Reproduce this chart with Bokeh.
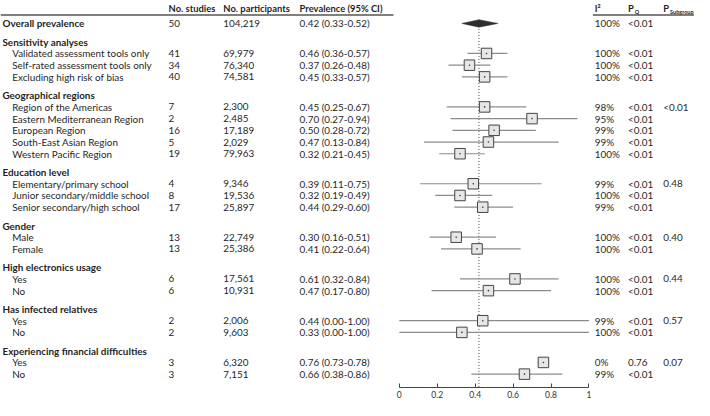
from bokeh.plotting import figure
from bokeh.models import Range1d, FixedTicker
from bokeh.core.properties import value
from bokeh.embed import file_html
from bokeh.resources import INLINE

# ---------------- data ----------------
overall_label = "Overall prevalence"
overall_studies = 50
overall_participants = 104219
overall_prev = 0.42
overall_lo = 0.33
overall_hi = 0.52
overall_i2 = "100%"
overall_pq = "<0.01"

group_names = ["Sensitivity analyses", "Geographical regions", "Education level", "Gender",
               "High electronics usage", "Has infected relatives", "Experiencing financial difficulties"]
group_sizes = [3, 5, 3, 2, 2, 2, 2]
group_p_subgroup = ["", "<0.01", "0.48", "0.40", "0.44", "0.57", "0.07"]

item_labels = ["Validated assessment tools only", "Self-rated assessment tools only", "Excluding high risk of bias",
               "Region of the Americas", "Eastern Mediterranean Region", "European Region",
               "South-East Asian Region", "Western Pacific Region",
               "Elementary/primary school", "Junior secondary/middle school", "Senior secondary/high school",
               "Male", "Female", "Yes", "No", "Yes", "No", "Yes", "No"]
item_studies = [41, 34, 40, 7, 2, 16, 5, 19, 4, 8, 17, 13, 13, 6, 6, 2, 2, 3, 3]
item_participants = [69979, 76340, 74581, 2300, 2485, 17189, 2029, 79963, 9346, 19536, 25897,
                     22749, 25386, 17561, 10931, 2006, 9603, 6320, 7151]
item_prev = [0.46, 0.37, 0.45, 0.45, 0.70, 0.50, 0.47, 0.32, 0.39, 0.32, 0.44,
             0.30, 0.41, 0.61, 0.47, 0.44, 0.33, 0.76, 0.66]
item_lo = [0.36, 0.26, 0.33, 0.25, 0.27, 0.28, 0.13, 0.21, 0.11, 0.19, 0.29,
           0.16, 0.22, 0.32, 0.17, 0.00, 0.00, 0.73, 0.38]
item_hi = [0.57, 0.48, 0.57, 0.67, 0.94, 0.72, 0.84, 0.45, 0.75, 0.49, 0.60,
           0.51, 0.64, 0.84, 0.80, 1.00, 1.00, 0.78, 0.86]
item_i2 = ["100%", "100%", "100%", "98%", "95%", "99%", "99%", "100%", "99%", "100%", "99%",
           "100%", "100%", "100%", "100%", "99%", "100%", "0%", "99%"]
item_pq = ["<0.01"] * 17 + ["0.76", "<0.01"]

col_headers = ["No. studies", "No. participants", "Prevalence (95% CI)"]
x_ticks = [0, 0.2, 0.4, 0.6, 0.8, 1]
x_tick_labels = ["0", "0.2", "0.4", "0.6", "0.8", "1"]

# ---------------- layout ----------------
W, H = 694, 400
REF_W = 710
PX0, PX_UNIT = 408.0, 194.0          # reference px of value 0, px per unit
ROW0, ROW_STEP = 24.0, 12.25         # reference px of first row, px per row
GAP = 19.18 / ROW_STEP               # space before a group header (rows)
AXIS_PX = 405.0


def px_x(px):
    return (px - PX0) / PX_UNIT


def px_y(py):
    return (py - ROW0) / ROW_STEP


FONT = value("Lato")
FS = value("9.9px")
FS_HEAD = value("9.4px")
TXT = "#1f1f1f"

# row positions
overall_y = 0.0
header_ys, item_ys, first_item_ys = [], [], []
cur = 0.0
for gs in group_sizes:
    cur += GAP
    header_ys.append(cur)
    for k in range(gs):
        cur += 1.0
        item_ys.append(cur)
        if k == 0:
            first_item_ys.append(cur)

p = figure(width=W, height=H, output_backend="svg", toolbar_location=None,
           x_range=Range1d(px_x(0), px_x(REF_W)),
           y_range=Range1d(px_y(AXIS_PX), px_y(0)),
           y_axis_location=None, min_border=0, min_border_bottom=0,
           background_fill_color="white", border_fill_color="white")
p.outline_line_color = None
p.xgrid.visible = False
p.ygrid.visible = False

ax = p.xaxis[0]
ax.ticker = FixedTicker(ticks=x_ticks)
ax.major_label_overrides = {t: l for t, l in zip(x_ticks, x_tick_labels)}
ax.bounds = (x_ticks[0], x_ticks[-1])
ax.axis_line_color = "#444444"
ax.major_tick_line_color = "#444444"
ax.major_tick_in = 4
ax.major_tick_out = 0
ax.minor_tick_line_color = None
ax.major_label_standoff = 3
ax.major_label_text_font = "Lato"
ax.major_label_text_font_size = "8.5px"
ax.major_label_text_color = "#333333"


def add_text(x_px, ys, texts, bold=False, size=FS, color=TXT, y_offset=0):
    p.text(x=[px_x(x_px)] * len(ys), y=ys, text=texts, text_font=FONT, text_font_size=size,
           text_font_style="bold" if bold else "normal", text_color=color,
           text_baseline="middle", text_align="left", y_offset=y_offset)


# header
hy = px_y(8.8)
add_text(172, [hy], [col_headers[0]], bold=True, size=FS_HEAD)
add_text(228, [hy], [col_headers[1]], bold=True, size=FS_HEAD)
add_text(306, [hy], [col_headers[2]], bold=True, size=FS_HEAD)
add_text(608, [hy], ["I²"], bold=True, size=FS_HEAD)
add_text(642, [hy], ["P"], bold=True, size=FS_HEAD)
add_text(649, [hy], ["Q"], bold=True, size=value("5.5px"), y_offset=3)
add_text(678, [hy], ["P"], bold=True, size=FS_HEAD)
add_text(685, [hy], ["Subgroup"], bold=True, size=value("5.5px"), y_offset=3)

ly = px_y(15.2)
p.segment(x0=[px_x(0), px_x(606)], y0=[ly, ly], x1=[px_x(402), px_x(REF_W)], y1=[ly, ly],
          line_color="#555555", line_width=1.6)

# left columns
fmt_ci = lambda m, a, b: f"{m:.2f} ({a:.2f}-{b:.2f})"
add_text(2, [overall_y], [overall_label], bold=True)
add_text(172, [overall_y], [str(overall_studies)])
add_text(228, [overall_y], [f"{overall_participants:,}"])
add_text(306, [overall_y], [fmt_ci(overall_prev, overall_lo, overall_hi)])
add_text(608, [overall_y], [overall_i2])
add_text(642, [overall_y], [overall_pq])

add_text(2, header_ys, group_names, bold=True)
add_text(12, item_ys, item_labels)
add_text(172, item_ys, [str(v) for v in item_studies])
add_text(228, item_ys, [f"{v:,}" for v in item_participants])
add_text(306, item_ys, [fmt_ci(m, a, b) for m, a, b in zip(item_prev, item_lo, item_hi)])
add_text(608, item_ys, item_i2)
add_text(642, item_ys, item_pq)
psub_ys = [y for y, s in zip(first_item_ys, group_p_subgroup) if s]
psub_tx = [s for s in group_p_subgroup if s]
add_text(678, psub_ys, psub_tx)

# forest plot
p.segment(x0=[overall_prev], y0=[overall_y - 0.3], x1=[overall_prev], y1=[px_y(AXIS_PX)],
          line_color="#444444", line_width=1, line_dash="1 2")
p.patch(x=[overall_lo, overall_prev, overall_hi, overall_prev],
        y=[overall_y, overall_y - 0.32, overall_y, overall_y + 0.32],
        fill_color="#2e2e2e", line_color="#2e2e2e", line_width=0.5)
p.segment(x0=item_lo, y0=item_ys, x1=item_hi, y1=item_ys, line_color="#8c8c8c", line_width=1.2)
p.scatter(x=item_prev, y=item_ys, marker="square", size=10.5, fill_color="#e6e6e6",
          line_color="#444444", line_width=1)
p.scatter(x=item_prev, y=item_ys, marker="circle", size=1.6, fill_color="#333333", line_color=None)

open("out.html", "w").write(file_html(p, INLINE))
